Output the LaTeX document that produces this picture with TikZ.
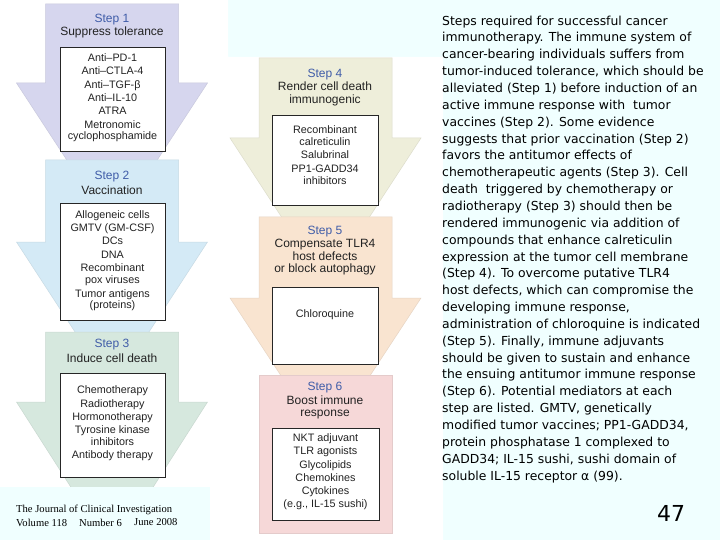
\documentclass[tikz,border=0pt]{standalone}
\usepackage{fontspec}
\setmainfont{Liberation Sans}
\newfontfamily\captfont{DejaVu Sans}
\newfontfamily\jcifont{Liberation Serif}
\definecolor{bgcyan}{HTML}{F0FFFF}
\definecolor{sonecol}{HTML}{D6D6EE}
\definecolor{stwocol}{HTML}{D4EAF6}
\definecolor{sthreecol}{HTML}{D6E8DE}
\definecolor{sfourcol}{HTML}{EEEEDA}
\definecolor{sfivecol}{HTML}{F9E4D0}
\definecolor{ssixcol}{HTML}{F6D8D8}
\definecolor{steplbl}{HTML}{3F5CA8}
\definecolor{bodytxt}{HTML}{222222}
\newcommand{\mystepshape}[6]{%
  \filldraw[fill=#1, draw=#1!85!gray, line width=0.5pt]
    ({#2-66.5},#3) -- ({#2+66.5},#3) -- ({#2+66.5},#4) -- ({#2+95.5},#4)
    -- ({#2+#6},#5) -- ({#2-#6},#5) -- ({#2-95.5},#4) -- ({#2-66.5},#4) -- cycle;}
\tikzset{
  itembox/.style={draw=black!85, line width=0.8pt, fill=white, inner sep=0pt},
  steplabel/.style={text=steplbl, font=\fontsize{12}{13}\selectfont, inner sep=0pt},
  steptitle/.style={text=bodytxt, font=\fontsize{12}{12.5}\selectfont, inner sep=0pt, align=center},
  itemtext/.style={text=bodytxt, font=\fontsize{10.8}{13.4}\selectfont, inner sep=0pt, align=center},
  captext/.style={font=\captfont\fontsize{12.4}{16.85}\selectfont, inner sep=0pt, align=left, anchor=north west},
  jcitext/.style={font=\jcifont\fontsize{10.6}{11}\selectfont, inner sep=0pt, anchor=west},
}
\begin{document}
\begin{tikzpicture}[x=1pt,y=-1pt]
\useasboundingbox (0,0) rectangle (720,540);
\fill[bgcyan] (0,0) rectangle (720,540);
\fill[white] (0,0) -- (228,0) -- (228,57) -- (443,57) -- (443,540) -- (0,540) -- cycle;

% left column arrows
\mystepshape{sonecol}{112}{4}{83}{168}{40}
\mystepshape{stwocol}{112}{160}{242}{335}{35}
\mystepshape{sthreecol}{112}{332}{402}{492}{38}
% right column arrows
\mystepshape{sfourcol}{325.5}{58}{138}{220}{42}
\mystepshape{sfivecol}{325.5}{217}{298}{378}{43}
\filldraw[fill=ssixcol, draw=ssixcol!85!gray, line width=0.5pt] (259,375) rectangle (392,533);

% journal logo box
\fill[bgcyan] (0,487) rectangle (210,540);

% white item boxes
\node[itembox, minimum width=105pt, minimum height=104pt] (box1) at (112.5,99) {};
\node[itembox, minimum width=105pt, minimum height=117pt] (box2) at (112.5,261.5) {};
\node[itembox, minimum width=105pt, minimum height=104pt] (box3) at (112.5,425) {};
\node[itembox, minimum width=106pt, minimum height=90pt] (box4) at (325,160) {};
\node[itembox, minimum width=106pt, minimum height=77pt] (box5) at (325,325.5) {};
\node[itembox, minimum width=107pt, minimum height=92pt] (box6) at (325.5,474) {};

% step 1
\node[steplabel] (lbl1) at (112,20) {Step 1};
\node[steptitle] (ttl1) at (112,32) {Suppress tolerance};
\node[itemtext] (it1) at (112.5,97.5) {Anti–PD-1\\Anti–CTLA-4\\Anti–TGF-β\\Anti–IL-10\\ATRA\\Metronomic\\[-2.5pt]cyclophosphamide};
% step 2
\node[steplabel] (lbl2) at (112,177) {Step 2};
\node[steptitle] (ttl2) at (112,190) {Vaccination};
\node[itemtext] (it2) at (112.5,260.5) {Allogeneic cells\\GMTV (GM-CSF)\\DCs\\DNA\\Recombinant\\[-1.5pt]pox viruses\\Tumor antigens\\[-2pt](proteins)};
% step 3
\node[steplabel] (lbl3) at (112,345) {Step 3};
\node[steptitle] (ttl3) at (112,358) {Induce cell death};
\node[itemtext] (it3) at (112.5,423.5) {Chemotherapy\\Radiotherapy\\Hormonotherapy\\Tyrosine kinase\\[-2pt]inhibitors\\Antibody therapy};
% step 4
\node[steplabel] (lbl4) at (325,75) {Step 4};
\node[steptitle] (ttl4) at (325,94) {Render cell death\\immunogenic};
\node[itemtext] (it4) at (325,155) {Recombinant\\[-1pt]calreticulin\\Salubrinal\\PP1-GADD34\\[-1pt]inhibitors};
% step 5
\node[steplabel] (lbl5) at (325,232) {Step 5};
\node[steptitle] (ttl5) at (325,257.5) {Compensate TLR4\\host defects\\or block autophagy};
\node[itemtext] (it5) at (325,315) {Chloroquine};
% step 6
\node[steplabel] (lbl6) at (325,388) {Step 6};
\node[steptitle] (ttl6) at (325,407.5) {Boost immune\\response};
\node[itemtext] (it6) at (325.5,471.5) {NKT adjuvant\\TLR agonists\\Glycolipids\\Chemokines\\Cytokines\\[-1pt](e.g., IL-15 sushi)};

% journal logo
\node[jcitext] (jci1) at (16,510) {The Journal of Clinical Investigation};
\node[jcitext] (jci2) at (16,522.5) {Volume 118};
\node[jcitext] (jci3) at (79,522.5) {Number 6};
\node[jcitext] (jci4) at (134,522.5) {June 2008};

% caption
\node[captext] (capt) at (442,15.5) {Steps required for successful cancer\\
immunotherapy. The immune system of\\
cancer-bearing individuals suffers from\\
tumor-induced tolerance, which should be\\
alleviated (Step 1) before induction of an\\
active immune response with\ \ tumor\\
vaccines (Step 2). Some evidence\\
suggests that prior vaccination (Step 2)\\
favors the antitumor effects of\\
chemotherapeutic agents (Step 3). Cell\\
death\ \ triggered by chemotherapy or\\
radiotherapy (Step 3) should then be\\
rendered immunogenic via addition of\\
compounds that enhance calreticulin\\
expression at the tumor cell membrane\\
(Step 4). To overcome putative TLR4\\
host defects, which can compromise the\\
developing immune response,\\
administration of chloroquine is indicated\\
(Step 5). Finally, immune adjuvants\\
should be given to sustain and enhance\\
the ensuing antitumor immune response\\
(Step 6). Potential mediators at each\\
step are listed. GMTV, genetically\\
modified tumor vaccines; PP1-GADD34,\\
protein phosphatase 1 complexed to\\
GADD34; IL-15 sushi, sushi domain of\\
soluble IL-15 receptor α (99).};

\node[font=\captfont\fontsize{22}{24}\selectfont, inner sep=0pt] (pgnum) at (671,513) {47};
\end{tikzpicture}
\end{document}
